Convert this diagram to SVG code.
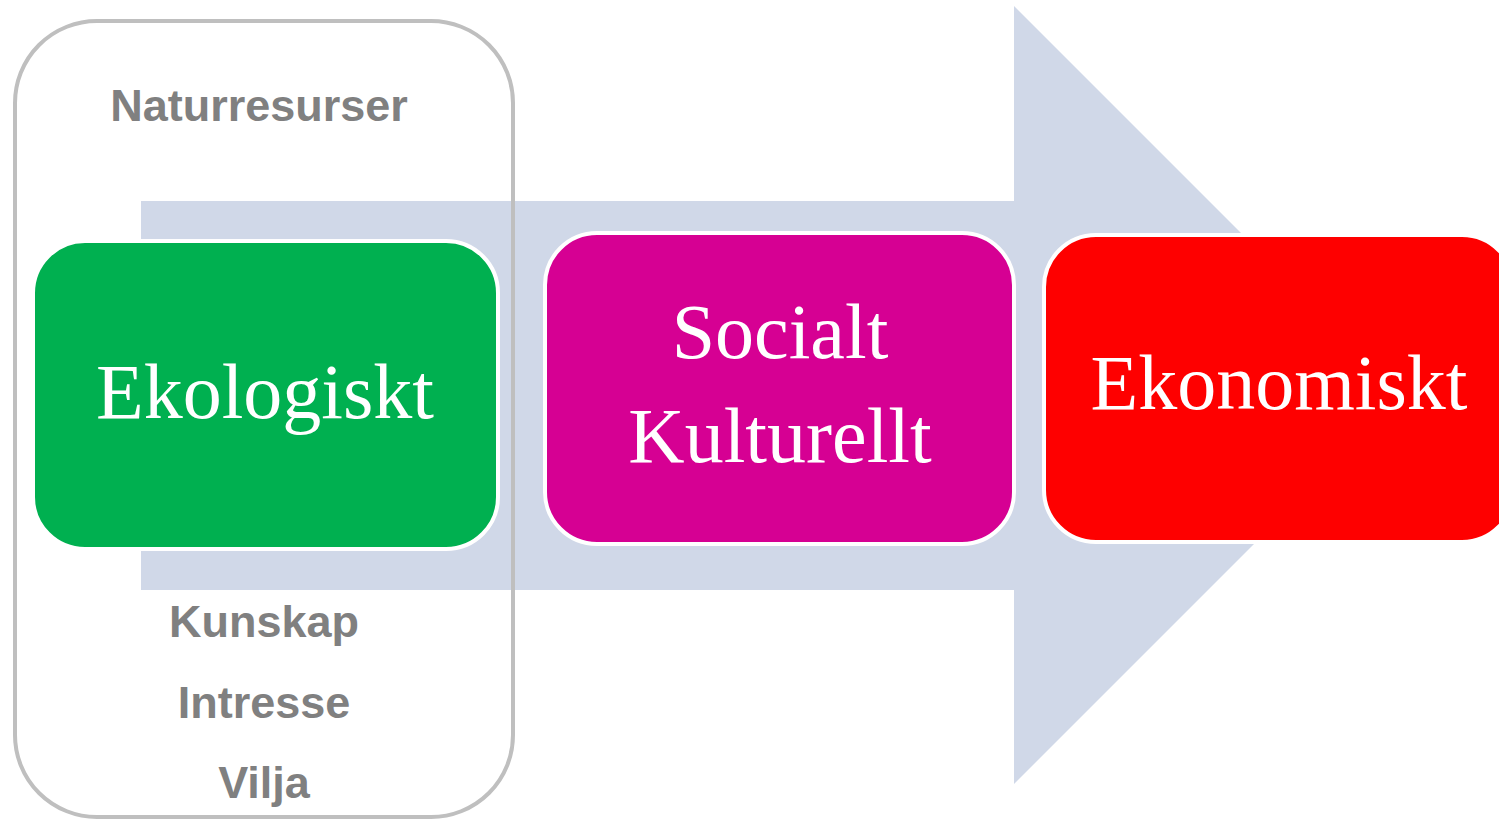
<svg xmlns="http://www.w3.org/2000/svg" width="1499" height="821" viewBox="0 0 1499 821">
<style>
.lbl{font-family:"Liberation Sans",Arial,sans-serif;font-weight:bold;font-size:45px;fill:#808080;text-anchor:middle}
.big{font-family:"Liberation Serif","Times New Roman",serif;font-size:78px;fill:#ffffff;text-anchor:middle}
.card{stroke:#ffffff;stroke-width:4}
</style>
<rect width="1499" height="821" fill="#ffffff"/>
<g id="connectors">
<polygon id="arrow" points="141,201 1014,201 1014,6 1403,395 1014,784 1014,590 141,590" fill="#d0d8e8"/>
</g>
<g id="frame">
<rect x="15" y="21" width="498" height="796" rx="82" ry="82" fill="none" stroke="#bfbfbf" stroke-width="4"/>
<text class="lbl" x="259" y="121">Naturresurser</text>
<text class="lbl" x="264" y="637">Kunskap</text>
<text class="lbl" x="264" y="718">Intresse</text>
<text class="lbl" x="264" y="798">Vilja</text>
</g>
<g id="ekologiskt">
<rect class="card" x="33" y="241" width="465" height="308" rx="52" ry="52" fill="#00b050"/>
<text class="big" x="265" y="418">Ekologiskt</text>
</g>
<g id="socialt">
<rect class="card" x="545" y="233" width="469" height="311" rx="52" ry="52" fill="#d60093"/>
<text class="big" x="780" y="358">Socialt</text>
<text class="big" x="780" y="462">Kulturellt</text>
</g>
<g id="ekonomiskt">
<rect class="card" x="1044" y="235" width="470" height="307" rx="52" ry="52" fill="#fe0000"/>
<text class="big" x="1279" y="409">Ekonomiskt</text>
</g>
</svg>
